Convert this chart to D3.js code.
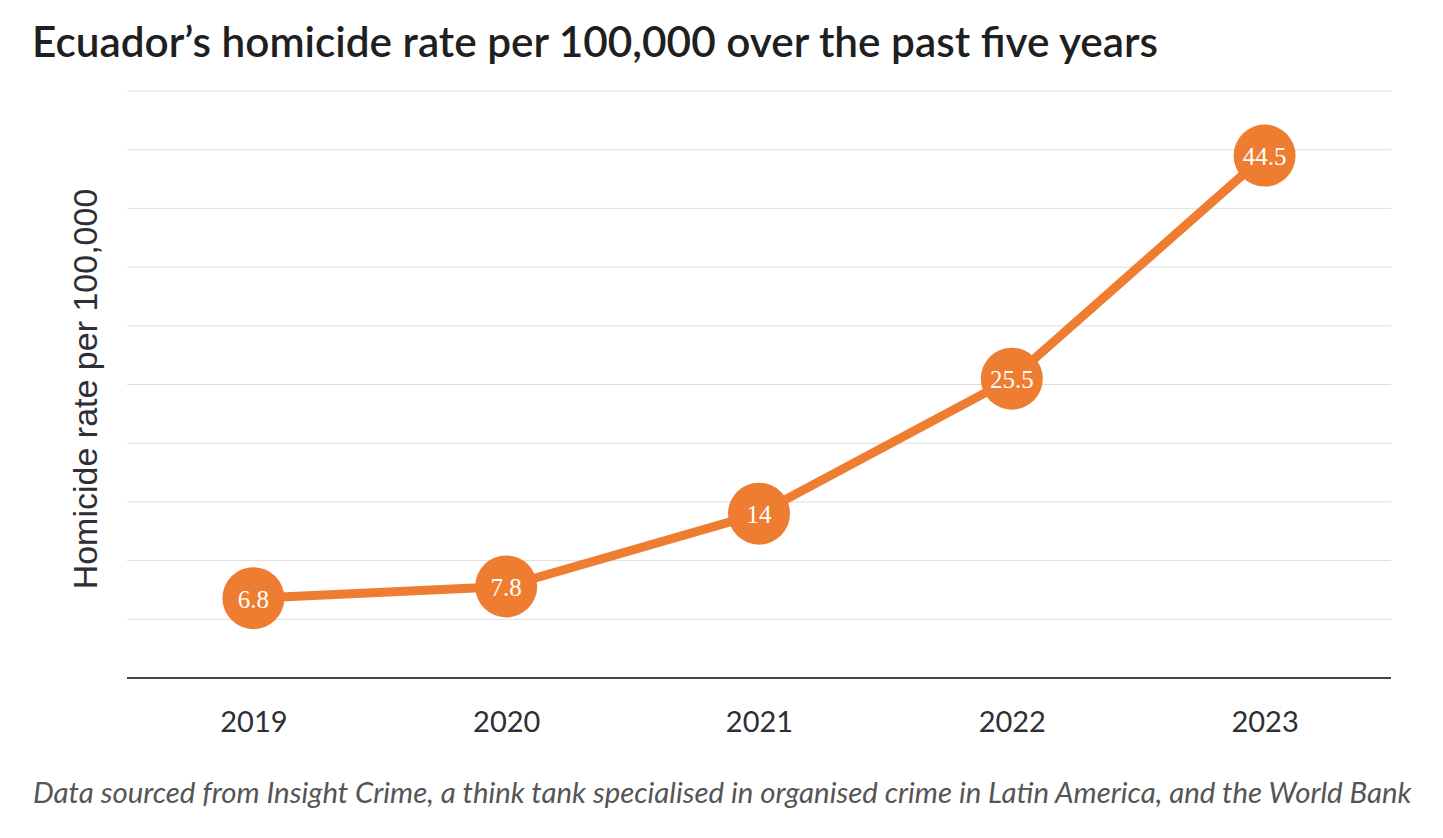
<!DOCTYPE html>
<html>
<head>
<meta charset="utf-8">
<script src="https://cdn.jsdelivr.net/npm/d3@7"></script>
<style>
  body { margin: 0; background: #fff; }
</style>
</head>
<body>
<div id="chart"></div>
<script>
const years = ["2019", "2020", "2021", "2022", "2023"];
const rates = [6.8, 7.8, 14, 25.5, 44.5];
const rateLabels = ["6.8", "7.8", "14", "25.5", "44.5"];
const gridTicks = [5, 10, 15, 20, 25, 30, 35, 40, 45, 50];

const w = 1443;
const h = 838;
const margin = { top: 91, right: 52, bottom: 160, left: 127 };
const orange = "#ee7d31";

const svg = d3.select("#chart")
    .append("svg")
    .attr("width", w)
    .attr("height", h);

const x = d3.scalePoint()
    .domain(years)
    .range([margin.left, w - margin.right])
    .padding(0.5);

const y = d3.scaleLinear()
    .domain([0, 50])
    .range([h - margin.bottom, margin.top]);

// title
svg.append("text")
    .attr("x", 32)
    .attr("y", 57)
    .text("Ecuador\u2019s homicide rate per 100,000 over the past five years")
    .style("font-family", "Lato, sans-serif")
    .style("font-weight", "600")
    .style("font-size", "42.3px")
    .style("fill", "#1f1f1f");

// gridlines
svg.append("g")
    .selectAll("line")
    .data(gridTicks)
    .enter()
    .append("line")
    .attr("x1", margin.left)
    .attr("x2", w - margin.right)
    .attr("y1", d => y(d))
    .attr("y2", d => y(d))
    .attr("stroke", "#dedede")
    .attr("stroke-width", 1);

// x axis
const xAxis = svg.append("g")
    .attr("transform", `translate(0, ${y(0)})`)
    .call(d3.axisBottom(x).tickSize(0).tickPadding(33));
xAxis.select(".domain")
    .attr("stroke", "#444")
    .attr("stroke-width", 2)
    .attr("d", `M${margin.left},0H${w - margin.right}`);
xAxis.selectAll("text")
    .style("font-family", "Lato, sans-serif")
    .style("font-size", "29px")
    .style("fill", "#2e2e35");

// y axis label
svg.append("text")
    .attr("transform", "translate(97, 389) rotate(-90)")
    .attr("text-anchor", "middle")
    .text("Homicide rate per 100,000")
    .style("font-family", "'Liberation Sans', Arial, sans-serif")
    .style("font-size", "34px")
    .style("fill", "#2e2e35");

// line
const line = d3.line()
    .x((d, i) => x(years[i]))
    .y(d => y(d));

svg.append("path")
    .datum(rates)
    .attr("d", line)
    .attr("fill", "none")
    .attr("stroke", orange)
    .attr("stroke-width", 9);

const pts = svg.append("g")
    .selectAll("g")
    .data(rates)
    .enter()
    .append("g")
    .attr("transform", (d, i) => `translate(${x(years[i])}, ${y(d)})`);

pts.append("circle")
    .attr("r", 31)
    .attr("fill", orange);

pts.append("text")
    .attr("text-anchor", "middle")
    .attr("dy", "0.38em")
    .text((d, i) => rateLabels[i])
    .style("font-family", "'Liberation Serif', serif")
    .style("font-size", "25px")
    .style("fill", "#fff");

// source
svg.append("text")
    .attr("x", 33)
    .attr("y", 803)
    .text("Data sourced from Insight Crime, a think tank specialised in organised crime in Latin America, and the World Bank")
    .style("font-family", "Lato, sans-serif")
    .style("font-style", "italic")
    .style("font-size", "29.4px")
    .style("fill", "#555");
</script>
</body>
</html>
